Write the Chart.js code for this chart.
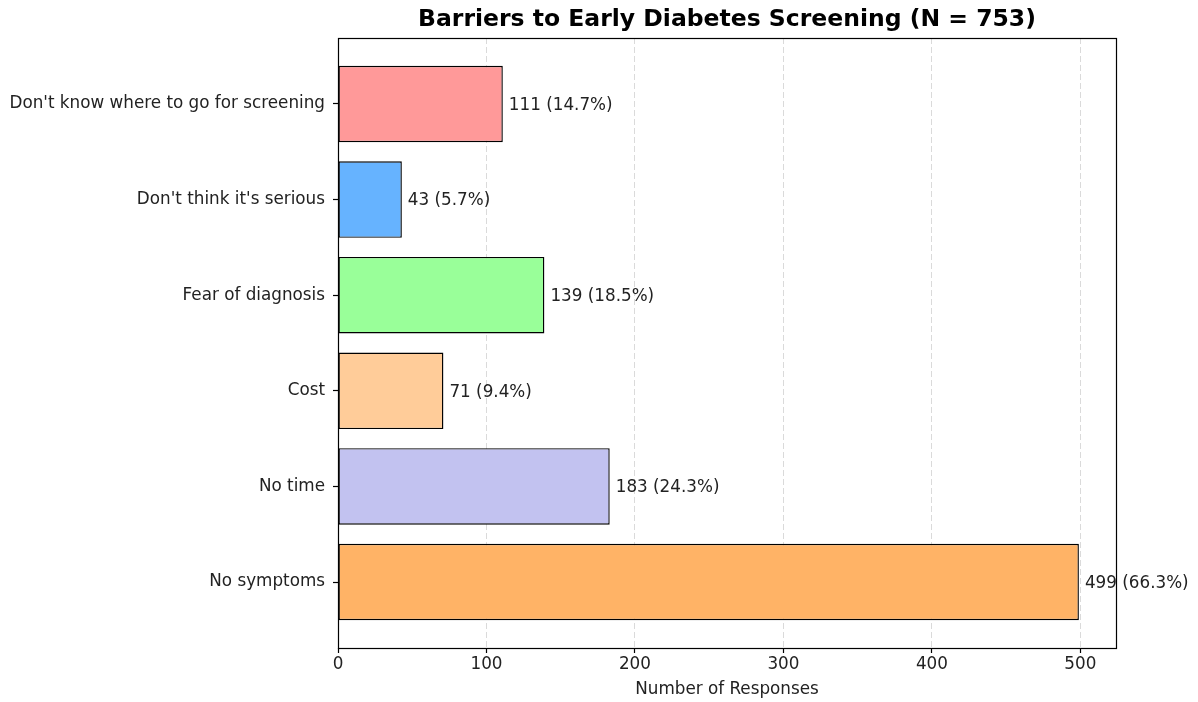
<!DOCTYPE html>
<html>
<head>
<meta charset="utf-8">
<script src="https://cdn.jsdelivr.net/npm/chart.js@4/dist/chart.umd.min.js"></script>
<style>
  html, body { margin: 0; padding: 0; background: #fff; }
  #wrap { width: 1198px; height: 702px; }
</style>
</head>
<body>
<div id="wrap"><canvas id="c" width="1198" height="702"></canvas></div>
<script>
// Survey results: reasons respondents gave for not getting screened early
const categories = [
  "Don't know where to go for screening",
  "Don't think it's serious",
  "Fear of diagnosis",
  "Cost",
  "No time",
  "No symptoms"
];
const responses = [111, 43, 139, 71, 183, 499];
const percentages = [14.7, 5.7, 18.5, 9.4, 24.3, 66.3];
const barColors = ["#ff9999", "#66b3ff", "#99ff99", "#ffcc99", "#c2c2f0", "#ffb366"];
const xTicks = [0, 100, 200, 300, 400, 500];
const totalRespondents = 753;
const chartTitle = "Barriers to Early Diabetes Screening (N = " + totalRespondents + ")";

const FONT = "'DejaVu Sans', sans-serif";

// Title centred over the plotting area
const plotTitle = {
  id: 'plotTitle',
  afterDraw(chart) {
    const a = chart.chartArea;
    const ctx = chart.ctx;
    ctx.save();
    ctx.font = "bold 23.5px " + FONT;
    ctx.fillStyle = "#000";
    ctx.textAlign = "center";
    ctx.textBaseline = "middle";
    ctx.fillText(chartTitle, (a.left + a.right) / 2, 20);
    ctx.restore();
  }
};

// Value + share labels at the end of each bar
const barLabels = {
  id: 'barLabels',
  afterDatasetsDraw(chart) {
    const ctx = chart.ctx;
    const meta = chart.getDatasetMeta(0);
    ctx.save();
    ctx.font = "16.8px " + FONT;
    ctx.fillStyle = "#222";
    ctx.textAlign = "left";
    ctx.textBaseline = "middle";
    meta.data.forEach((bar, i) => {
      ctx.fillText(responses[i] + " (" + percentages[i].toFixed(1) + "%)", bar.x + 6, bar.y + 1.5);
    });
    ctx.restore();
  }
};

// Box around the plotting area
const frame = {
  id: 'frame',
  afterDraw(chart) {
    const a = chart.chartArea;
    const ctx = chart.ctx;
    ctx.save();
    ctx.strokeStyle = "#000";
    ctx.lineWidth = 1.2;
    ctx.strokeRect(Math.round(a.left) + 0.5, Math.round(a.top) + 0.5,
                   Math.round(a.right - a.left), Math.round(a.bottom - a.top));
    ctx.restore();
  }
};

new Chart(document.getElementById('c'), {
  type: 'bar',
  data: {
    datasets: [{
      data: responses.map((v, i) => ({ x: v, y: i })),
      backgroundColor: barColors,
      borderColor: "#000",
      borderWidth: 1.4,
      borderSkipped: false,
      barPercentage: 0.8,
      categoryPercentage: 1.0
    }]
  },
  options: {
    indexAxis: 'y',
    responsive: false,
    animation: false,
    devicePixelRatio: 1,
    layout: { padding: { left: 0, right: 82, top: 38, bottom: 0 } },
    plugins: {
      legend: { display: false },
      tooltip: { enabled: false },
      title: { display: false }
    },
    scales: {
      x: {
        type: 'linear',
        min: 0,
        max: 524,
        afterBuildTicks(axis) { axis.ticks = xTicks.map(v => ({ value: v })); },
        afterFit(axis) { axis.height = 54; },
        grid: {
          color: "rgba(150,150,150,0.4)",
          lineWidth: 0.9,
          tickColor: "#000",
          tickBorderDash: [],
          tickLength: 5,
          tickWidth: 1.2,
          drawTicks: true
        },
        border: { display: false, dash: [6, 3] },
        ticks: {
          color: "#222",
          padding: 2,
          font: { family: FONT, size: 16.8 }
        },
        title: {
          display: true,
          text: "Number of Responses",
          color: "#222",
          font: { family: FONT, size: 16.8 },
          padding: { top: 0, bottom: 2 }
        }
      },
      y: {
        type: 'linear',
        reverse: true,
        offset: false,
        min: -0.69,
        max: categories.length - 1 + 0.69,
        afterBuildTicks(axis) { axis.ticks = categories.map((_, i) => ({ value: i })); },
        afterFit(axis) { axis.width = 338; },
        grid: {
          drawOnChartArea: false,
          offset: false,
          tickColor: "#000",
          tickLength: 5,
          tickWidth: 1.2
        },
        border: { display: false },
        ticks: {
          color: "#222",
          padding: 8,
          font: { family: FONT, size: 16.8 },
          callback: (v) => categories[v]
        }
      }
    }
  },
  plugins: [barLabels, frame, plotTitle]
});
</script>
</body>
</html>
